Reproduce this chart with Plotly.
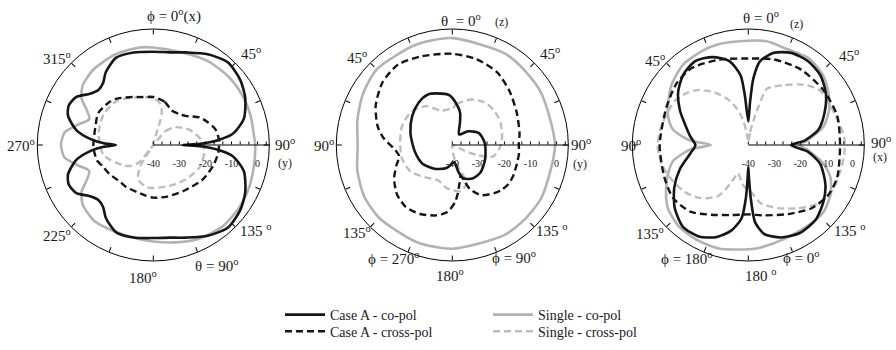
import plotly.graph_objects as go

# ---------------- data (theta in degrees, clockwise from top; r in dB) ----------------
# Plot 1 : phi-cut
p1_caseA_co_theta = [0, 10, 20, 31, 42, 53, 63, 74, 82, 86, 88.5, 90, 91.5, 94, 98, 106, 117, 127, 138, 149, 160, 170,
                     180, 192, 203, 213, 219, 225, 231, 238, 245, 251, 259, 265, 268, 270, 272, 275, 281, 289, 295,
                     302, 309, 315, 321, 327, 337, 348, 360]
p1_caseA_co_r = [-4.2, -3.9, -2.2, 0.6, 2.7, 1.7, -0.4, -3.9, -9.2, -15.5, -22, -28.8, -22, -15.5, -9.2, -3.9, -0.4,
                 1.7, 2.7, 0.6, -2.2, -3.9, -4.3, -3.7, -3.6, -6.6, -9.4, -10.2, -8.8, -5.2, -4.2, -5.4, -9.9, -16.3,
                 -21, -25.6, -21, -16.3, -9.9, -5.4, -4.2, -5.2, -8.8, -10.2, -9.4, -6.6, -3.6, -3.7, -4.2]

p1_caseA_x_theta = [0, 15, 28, 39, 48, 59, 67, 76, 86, 97, 109, 125, 145, 165, 180, 190, 213, 221, 237, 246, 255, 268,
                    286, 300, 314, 321, 337, 344, 360]
p1_caseA_x_r = [-21.6, -22.9, -25, -24.6, -23.3, -19.4, -17.4, -15.4, -14.7, -14.9, -15.7, -16.9, -18.8, -19.5, -19.8,
                -20.5, -20.8, -21, -19.8, -19.1, -17.6, -17, -16.8, -15.6, -16.4, -17.2, -20, -20.9, -21.6]

p1_single_co_theta = [0, 16, 33, 48, 61, 73, 85, 90, 101, 114, 126, 140, 155, 168, 180, 190, 206, 218, 230, 237, 242,
                      248, 255, 262, 270, 278, 285, 292, 298, 303, 310, 321, 337, 352, 360]
p1_single_co_r = [-2.6, -2.9, -1.6, -1.0, -0.9, -1.0, -1.2, -0.9, -0.6, 0.2, 0.8, 1.0, -0.1, -1.8, -3.0, -3.6, -3.6,
                  -3.1, -4.6, -7.2, -11, -13.5, -10, -5.6, -4.6, -5.6, -10, -13.5, -11, -7.2, -4.6, -3.1, -2.3, -2.2,
                  -2.6]

p1_single_x_theta = [20, 41, 51, 67, 84, 98, 116, 137, 159, 187, 204, 211, 213, 215, 219, 226, 235, 258, 281, 302, 321,
                     342, 352, 360, 8, 14, 16, 15, 20]
p1_single_x_r = [-40, -33, -29.1, -25, -21.5, -20.2, -20.3, -21.9, -23.2, -23.5, -25.6, -30, -35, -40, -31.6, -28.5,
                 -26.3, -20.6, -18.6, -17.6, -18.1, -20.7, -21.5, -22, -23.5, -26.5, -30, -35, -40]

# Plot 2 : theta-cut (phi = 90 / 270)
p2_caseA_co_theta = [343, 357, 9, 14, 19, 33, 49, 66, 87, 113, 134, 149, 162, 167, 174, 187, 194, 208, 217, 238, 260,
                     286, 306, 322, 334, 343]
p2_caseA_co_r = [-19.3, -20.9, -25.4, -27.5, -31, -35.2, -32, -28.8, -27.5, -26.3, -24.9, -25, -26.6, -29.2, -33.4,
                 -32, -30.9, -29.6, -28.6, -26.5, -25.4, -23.3, -21, -19.2, -18.5, -19.3]

p2_caseA_x_theta = [0, 16, 32, 47, 63, 80, 89, 97, 106, 117, 125, 133, 139, 150, 158, 161, 165, 169, 174, 177, 182,
                    185, 193, 205, 217, 228, 236, 241, 250, 258, 263, 267, 276, 284, 297, 312, 326, 341, 360]
p2_caseA_x_r = [-5.0, -5.8, -7.3, -9.9, -12.3, -13.8, -14.5, -14.2, -14.2, -13.8, -13.8, -14.5, -15.5, -17.8, -21.6,
                -24.7, -27.8, -25.3, -20.9, -18.2, -15.3, -14, -12.3, -10.8, -10.3, -11.5, -13.3, -14.5, -17.2, -19.2,
                -18.5, -17.4, -13.4, -10.5, -7, -4, -2.8, -4, -5.0]

p2_single_co_theta = [0, 30, 45, 60, 90, 120, 135, 150, 180, 200, 225, 240, 255, 270, 285, 300, 315, 340, 360]
p2_single_co_r = [1.0, 0.5, -0.2, -0.5, -0.6, -0.3, -0.2, -0.1, -0.2, -0.3, -0.4, -0.9, -2.3, -3.7, -2.3, -0.5, 1.0,
                  0.9, 1.0]

p2_single_x_theta = [0, 6, 22, 37, 51, 65, 80, 94, 106, 112, 115, 118, 170, 163, 159, 170, 188, 202, 221, 238, 255,
                     272, 290, 308, 326, 342, 356, 360]
p2_single_x_r = [-26, -24.2, -21.2, -19.5, -19.2, -19.6, -20.6, -21.8, -23.8, -29.6, -35, -40, -34, -29.7, -24.5,
                 -22, -23.4, -25.4, -23.7, -21, -20, -20, -19.4, -19.7, -22, -26.2, -26.2, -26]

# Plot 3 : theta-cut (phi = 0 / 180)
p3_caseA_co_theta = [0, 2.3, 4.4, 8, 15.5, 25, 35.5, 46, 56.5, 67, 77.6, 85.5, 90, 96.5, 104.7, 117, 127, 138, 150,
                     160.6, 170, 175, 177.4, 178.8, 180, 181.2, 182.6, 185.3, 191.3, 199.4, 208.5, 218.4, 229.3, 240,
                     250.7, 261.6, 270, 278.4, 288, 296.6, 307, 317, 327.7, 337.8, 347.3, 353.6, 356, 360]
p3_caseA_co_r = [-31, -23.6, -14.3, -7.5, -3.3, -1, -0.5, -1.5, -4.3, -8.2, -12.4, -18.3, -23.6, -16.9, -11.5, -6.8,
                 -3.9, -1.4, -0.9, -2.4, -5.4, -10.3, -19.7, -27.5, -31.5, -27.5, -19.7, -11.7, -6.5, -2.5, -0.1, 0.2,
                 -2.8, -7.2, -12.2, -17.5, -19.7, -17.5, -14.5, -10.7, -6.3, -3.3, -1.9, -3.6, -7, -13, -20.9, -31]

p3_caseA_x_theta = [0, 17, 35, 54, 72, 90, 110, 122, 135, 150, 168, 180, 194, 208, 221, 235, 249, 270, 295, 311, 324,
                    341, 360]
p3_caseA_x_r = [-6.8, -5.7, -4.7, -4.3, -4.1, -4.8, -3.7, -3.8, -5.7, -9.4, -12.4, -13.4, -12.3, -9.7, -6.1, -4.7,
                -5.5, -6, -5.4, -3.7, -3.4, -5.4, -6.8]

p3_single_co_theta = [0, 10, 22, 34.5, 45.7, 55.5, 66, 76, 85, 90, 95, 104, 111.6, 121, 131.5, 143, 159, 173, 180,
                      196, 209, 221, 232, 241, 250, 258, 265.6, 270, 274.4, 281.6, 290, 296, 308, 321, 334, 344, 360]
p3_single_co_r = [0.0, 0.4, -0.3, 0.6, -0.6, -2.9, -6, -10.2, -17, -20.3, -17, -10.2, -6.1, -3.2, -1.4, -1.5, -1.4,
                  -0.4, 0.0, 1.3, 1.4, 1.0, -0.8, -3.9, -7.2, -10.5, -17.6, -25.6, -17.6, -10.5, -7.2, -5.7, -2.6,
                  -0.3, 0.2, 0.3, 0.0]

p3_single_x_theta = [2, 8, 12, 15, 18.4, 31, 43, 53, 64, 74, 85, 95, 105, 119, 130, 142, 155, 168, 178, 186, 194,
                     200, 204, 207, 211, 222, 233, 244, 257, 270, 284, 301, 309, 317, 327, 337, 345, 350, 356, 362]
p3_single_x_r = [-39, -35, -30.6, -24.4, -17.2, -13.2, -8.4, -5.4, -5.1, -4.5, -3.1, -3, -3.3, -3.3, -5, -9.2, -13.3,
                 -17.2, -22.5, -24, -27, -28.5, -25, -21, -17, -12.6, -9.8, -8, -6, -5.2, -6, -7.1, -8.8, -11.2,
                 -15.8, -21.5, -27.1, -32.6, -38, -39]

# radial tick values / labels
radial_tickvals = [-40 + k * 10 / 3 for k in range(14)]
radial_ticktext = ['-40', '', '', '-30', '', '', '-20', '', '', '-10', '', '', '0', '']

series_names = ['Case A - co-pol', 'Case A - cross-pol', 'Single - co-pol', 'Single - cross-pol']

# ---------------- styles ----------------
BLACK = '#161616'
GRAY = '#b2b2b2'
GRAY_D = '#bdbdbd'
style = {
    'Case A - co-pol': dict(color=BLACK, width=2.6, dash='solid'),
    'Case A - cross-pol': dict(color=BLACK, width=2.4, dash='7px,4px'),
    'Single - co-pol': dict(color=GRAY, width=2.6, dash='solid'),
    'Single - cross-pol': dict(color=GRAY_D, width=2.4, dash='7px,4px'),
}
legend_of = {'Case A - co-pol': 'legend', 'Case A - cross-pol': 'legend2',
             'Single - co-pol': 'legend3', 'Single - cross-pol': 'legend4'}

plots = [
    ('polar', {'Single - co-pol': (p1_single_co_theta, p1_single_co_r),
               'Single - cross-pol': (p1_single_x_theta, p1_single_x_r),
               'Case A - co-pol': (p1_caseA_co_theta, p1_caseA_co_r),
               'Case A - cross-pol': (p1_caseA_x_theta, p1_caseA_x_r)}),
    ('polar2', {'Single - co-pol': (p2_single_co_theta, p2_single_co_r),
                'Single - cross-pol': (p2_single_x_theta, p2_single_x_r),
                'Case A - co-pol': (p2_caseA_co_theta, p2_caseA_co_r),
                'Case A - cross-pol': (p2_caseA_x_theta, p2_caseA_x_r)}),
    ('polar3', {'Single - co-pol': (p3_single_co_theta, p3_single_co_r),
                'Single - cross-pol': (p3_single_x_theta, p3_single_x_r),
                'Case A - co-pol': (p3_caseA_co_theta, p3_caseA_co_r),
                'Case A - cross-pol': (p3_caseA_x_theta, p3_caseA_x_r)}),
]

fig = go.Figure()
for i, (sub, curves) in enumerate(plots):
    for name in ['Single - co-pol', 'Single - cross-pol', 'Case A - co-pol', 'Case A - cross-pol']:
        th, rr = curves[name]
        fig.add_trace(go.Scatterpolar(
            theta=th, r=rr, mode='lines', name=name, subplot=sub,
            line=dict(shape='spline', smoothing=0.7, **style[name]),
            showlegend=(i == 0), legend=legend_of[name], hoverinfo='skip'))

# overlay subplots carrying only the small upward radial ticks
for sub in ['polar4', 'polar5', 'polar6']:
    fig.add_trace(go.Scatterpolar(theta=[], r=[], mode='lines', subplot=sub, showlegend=False,
                                  hoverinfo='skip'))

W, H = 896, 350
R = 116
centers = [153.3, 452.3, 748.3]
CY = 145


def domain_of(cx):
    return dict(x=[(cx - R) / W, (cx + R) / W], y=[1 - (CY + R) / H, 1 - (CY - R) / H])


def polar_cfg(cx):
    return dict(
        domain=domain_of(cx),
        bgcolor='rgba(0,0,0,0)',
        angularaxis=dict(rotation=90, direction='clockwise', showgrid=False, showline=True,
                         linecolor='black', linewidth=1, ticks='inside', ticklen=5, tickwidth=1,
                         tickcolor='black', tickmode='linear', tick0=0, dtick=22.5,
                         showticklabels=False),
        radialaxis=dict(range=[-40, 4.5], angle=0, side='clockwise', showgrid=False, showline=True,
                        linecolor='black', linewidth=1, ticks='outside', ticklen=9, tickwidth=1,
                        tickcolor='rgba(0,0,0,0)', tickmode='array', tickvals=radial_tickvals,
                        ticktext=radial_ticktext, tickangle=0,
                        tickfont=dict(family='Liberation Serif', size=10, color='#222222')),
    )


def tick_overlay_cfg(cx):
    return dict(
        domain=domain_of(cx),
        bgcolor='rgba(0,0,0,0)',
        angularaxis=dict(rotation=90, direction='clockwise', showgrid=False, showline=False,
                         ticks='', showticklabels=False),
        radialaxis=dict(range=[-40, 4.5], angle=0, side='clockwise', showgrid=False, showline=False,
                        ticks='inside', ticklen=3, tickwidth=1, tickcolor='black', tickmode='array',
                        tickvals=radial_tickvals, showticklabels=False),
    )


SERIF = 'Liberation Serif'
labels = [
    # plot 1
    ('\u03d5 = 0<sup>o</sup>(x)', 174, 16, 15), ('315<sup>o</sup>', 57, 58, 15), ('45<sup>o</sup>', 251, 53, 15),
    ('270<sup>o</sup>', 21, 145, 15), ('90<sup>o</sup>', 285, 144, 15), ('(y)', 285, 163, 12),
    ('225<sup>o</sup>', 57, 235, 15), ('135 <sup>o</sup>', 256, 230, 15), ('180<sup>o</sup>', 143, 277, 15),
    ('\u03b8 = 90<sup>o</sup>', 216, 265, 15),
    # plot 2
    ('\u03b8  = 0<sup>o</sup>', 461, 20, 15), ('(z)', 501, 22, 12),
    ('45<sup>o</sup>', 357, 57, 15), ('45<sup>o</sup>', 550, 53, 15),
    ('90<sup>o</sup>', 324, 145, 15), ('90<sup>o</sup>', 581, 144, 15), ('(y)', 580, 164, 12),
    ('135<sup>o</sup>', 357, 232, 15), ('135 <sup>o</sup>', 552, 230, 15),
    ('\u03d5 = 270<sup>o</sup>', 394, 258, 15), ('180<sup>o</sup>', 450, 275, 15),
    ('\u03d5 = 90<sup>o</sup>', 514, 257, 15),
    # plot 3
    ('\u03b8 = 0<sup>o</sup>', 761, 17, 15), ('(z)', 796, 24, 12),
    ('45<sup>o</sup>', 655, 60, 15), ('45<sup>o</sup>', 849, 55, 15),
    ('90<sup>o</sup>', 631, 145, 15), ('90<sup>o</sup>', 881, 142, 15), ('(x)', 880, 157, 12),
    ('135<sup>o</sup>', 650, 233, 15), ('135 <sup>o</sup>', 850, 230, 15),
    ('\u03d5 = 180<sup>o</sup>', 687, 258, 15), ('180 <sup>o</sup>', 761, 275, 15),
    ('\u03d5 = 0<sup>o</sup>', 801, 257, 15),
]
annotations = [dict(text=t, x=x / W, y=1 - y / H, xref='paper', yref='paper', showarrow=False,
                    xanchor='center', yanchor='middle', font=dict(family=SERIF, size=s, color='#1a1a1a'))
               for t, x, y, s in labels]

legend_common = dict(orientation='v', xanchor='left', yanchor='middle', bgcolor='rgba(0,0,0,0)',
                     font=dict(family=SERIF, size=14, color='#1a1a1a'), itemwidth=40, borderwidth=0)
col_x = [280, 488]
row_y = [315, 331.7]

fig.update_layout(
    width=W, height=H, margin=dict(l=0, r=0, t=0, b=0),
    paper_bgcolor='white', plot_bgcolor='white',
    polar=polar_cfg(centers[0]), polar2=polar_cfg(centers[1]), polar3=polar_cfg(centers[2]),
    polar4=tick_overlay_cfg(centers[0]), polar5=tick_overlay_cfg(centers[1]),
    polar6=tick_overlay_cfg(centers[2]),
    annotations=annotations,
    legend=dict(x=col_x[0] / W, y=1 - row_y[0] / H, **legend_common),
    legend2=dict(x=col_x[0] / W, y=1 - row_y[1] / H, **legend_common),
    legend3=dict(x=col_x[1] / W, y=1 - row_y[0] / H, **legend_common),
    legend4=dict(x=col_x[1] / W, y=1 - row_y[1] / H, **legend_common),
    showlegend=True,
)

fig.write_html('out.html')
